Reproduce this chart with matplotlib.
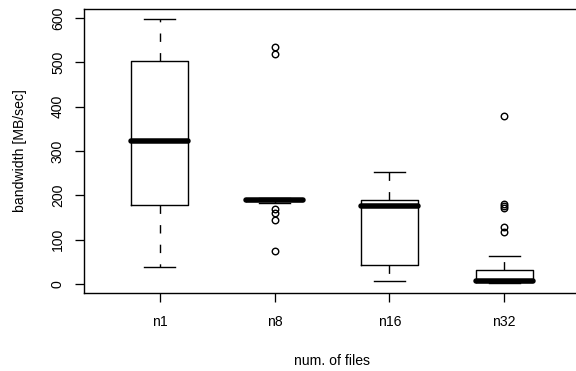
import matplotlib
matplotlib.use("Agg")
import matplotlib.pyplot as plt

plt.rcParams['font.family'] = ['Liberation Sans', 'DejaVu Sans']

# box statistics (MB/sec)
labels = ['n1', 'n8', 'n16', 'n32']
whislo = [38, 182, 6, 2]
q1 = [178, 186, 42, 4]
med = [322, 189, 176, 7]
q3 = [503, 191, 189, 32]
whishi = [598, 194, 252, 64]
fliers = [
    [],
    [535, 518, 168, 160, 145, 74],
    [],
    [379, 180, 176, 172, 128, 118],
]

stats = []
for i in range(len(labels)):
    stats.append(dict(label=labels[i], whislo=whislo[i], q1=q1[i], med=med[i],
                      q3=q3[i], whishi=whishi[i], fliers=fliers[i]))

fig = plt.figure(figsize=(8, 371 / 72), dpi=72)
ax = fig.add_axes([84 / 576, 78 / 371, 496 / 576, 284 / 371])

ax.bxp(stats, widths=0.5, capwidths=0.27,
       boxprops=dict(color='black', linewidth=1.4),
       medianprops=dict(color='black', linewidth=5.5, solid_capstyle='round'),
       whiskerprops=dict(color='black', linewidth=1.4, linestyle=(0, (6, 8))),
       capprops=dict(color='black', linewidth=1.4),
       flierprops=dict(marker='o', markerfacecolor='none', markeredgecolor='black',
                       markersize=6.5, markeredgewidth=1.4))

ax.set_xlim(0.34, 4.66)
ax.set_ylim(-20.5, 620)
ax.set_yticks([0, 100, 200, 300, 400, 500, 600])
for lab in ax.get_yticklabels():
    lab.set_rotation(90)
    lab.set_va('center')
ax.tick_params(axis='both', labelsize=14, length=9, width=1.3, color='black')
ax.tick_params(axis='x', pad=13)
ax.tick_params(axis='y', pad=10)
for s in ax.spines.values():
    s.set_linewidth(1.4)

ax.set_xlabel('num. of files', fontsize=14, labelpad=25)
ax.set_ylabel('bandwidth [MB/sec]', fontsize=14, labelpad=24)

fig.savefig('out.png', dpi=72)
